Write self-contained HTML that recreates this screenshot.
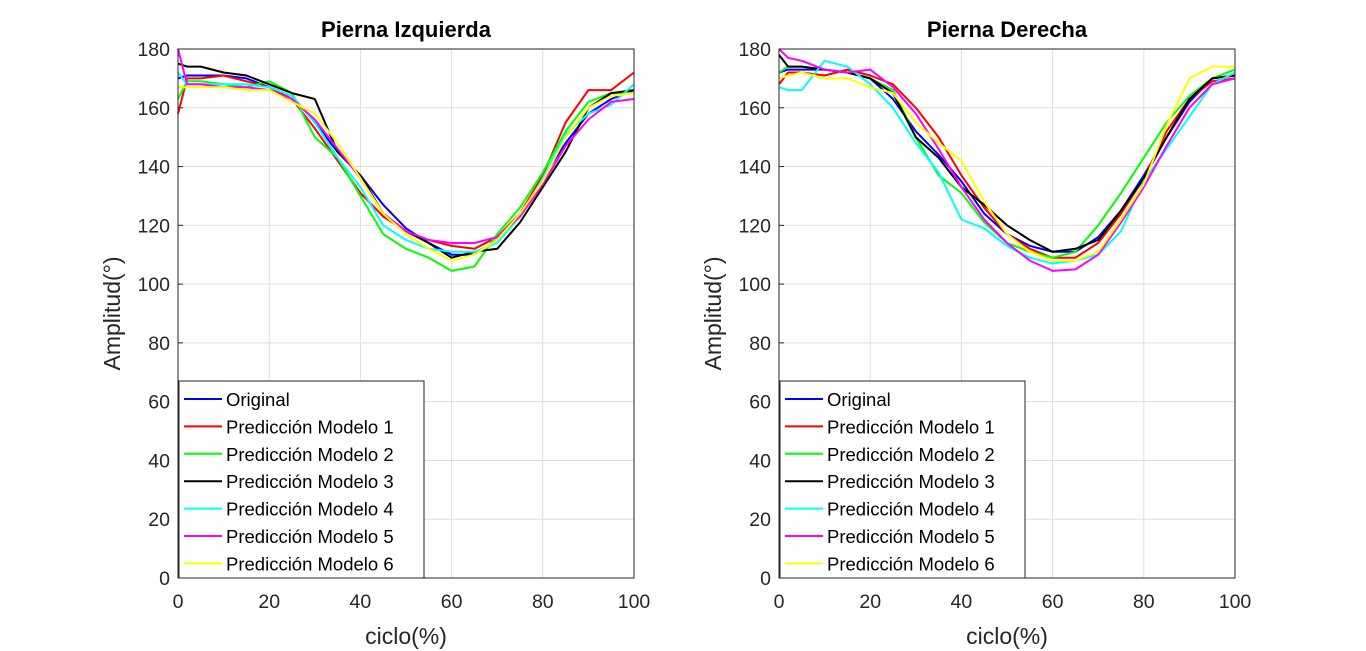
<!DOCTYPE html>
<html><head><meta charset="utf-8"><style>
body{margin:0;background:#fff;}
svg{display:block;font-family:"Liberation Sans",Arial,sans-serif;}
</style></head><body>
<svg id="chart" width="1366" height="651" viewBox="0 0 1366 651" xmlns="http://www.w3.org/2000/svg"></svg>
<script>
const xs=[0,2,5,10,15,20,25,30,35,40,45,50,55,60,65,70,75,80,85,90,95,100];
const yTicks=[0,20,40,60,80,100,120,140,160,180];
const xTicks=[0,20,40,60,80,100];
const seriesNames=["Original","Predicción Modelo 1","Predicción Modelo 2","Predicción Modelo 3","Predicción Modelo 4","Predicción Modelo 5","Predicción Modelo 6"];
const seriesColors=["#0000ff","#ff0000","#00ff00","#000000","#00ffff","#ff00ff","#ffff00"];
const leftOriginal=[170,171,171,171,170,167,164,155,145,137,127,119,114,110,110,115,124,136,148,158,163,166];
const leftM1=[158,170,170,171,169,167,163,153,142,131,123,118,115,113,112,116,124,137,155,166,166,172];
const leftM2=[163,169,169,168,167,169,165,150,143,130,117,112,109,104.5,106,117,126,138,152,162,165,165];
const leftM3=[175,174,174,172,171,168,165,163,145,137,124,118,114,109,111,112,121,133,145,160,165,166];
const leftM4=[172,168,168,168,168,167,164,155,143,133,120,115,112,111,111,114,123,136,151,158,161,168];
const leftM5=[180,168,168,167,167,166,163,156,146,136,124,118,115,114,114,116,123,134,147,156,162,163];
const leftM6=[167,167,167,167,166,166,162,158,148,136,124,117,112,108,110,115,124,135,150,160,164,165];
const rightOriginal=[172,173,173,173,172,170,163,152,144,135,124,117,113,111,111,116,125,137,150,162,170,171];
const rightM1=[168,172,172,171,173,171,168,160,150,137,126,117,112,109,109,114,124,136,152,163,169,170];
const rightM2=[172,174,174,173,172,170,166,150,137,131,121,114,111,109,111,120,131,143,155,164,170,173];
const rightM3=[178,174,174,173,172,170,165,150,143,133,127,120,115,111,112,115,125,136,150,163,170,171];
const rightM4=[167,166,166,176,174,168,160,148,138,122,119,113,109,107,108,110,118,135,146,157,168,172];
const rightM5=[180,177,176,173,172,173,167,158,146,133,122,114,108,104.5,105,110,121,133,147,160,168,170];
const rightM6=[170,171,172,170,170,167,165,155,148,142,128,117,111,108,108,111,122,134,154,170,174,174];
const panels=[
 {name:"left",title:"Pierna Izquierda",x0:178,data:[leftOriginal,leftM1,leftM2,leftM3,leftM4,leftM5,leftM6]},
 {name:"right",title:"Pierna Derecha",x0:779,data:[rightOriginal,rightM1,rightM2,rightM3,rightM4,rightM5,rightM6]}
];
const NS="http://www.w3.org/2000/svg";
const svg=document.getElementById('chart');
const W=456,Y0=49,Y1=578;
function mk(tag,attrs,parent){const e=document.createElementNS(NS,tag);for(const k in attrs)e.setAttribute(k,attrs[k]);(parent||svg).appendChild(e);return e;}
panels.forEach(p=>{
 const sx=v=>p.x0+v/100*W;
 const sy=v=>Y1-v/180*(Y1-Y0);
 const g=mk('g',{});
 
 
 const bg=mk('rect',{x:p.x0,y:Y0,width:W,height:Y1-Y0,fill:'#fff'},g);
 
 
 yTicks.forEach(t=>{
  const l=mk('line',{x1:p.x0,x2:p.x0+W,y1:sy(t),y2:sy(t),stroke:'#dfdfdf','stroke-width':1},g);
  
  
  const tk=mk('line',{x1:p.x0,x2:p.x0+5,y1:sy(t),y2:sy(t),stroke:'#262626'},g);
  
  
  const tx=mk('text',{x:p.x0-8,y:sy(t)+7,'text-anchor':'end','font-size':19.5,fill:'#262626'},g);
  tx.textContent=t;
  
  
 });
 xTicks.forEach(t=>{
  const l=mk('line',{x1:sx(t),x2:sx(t),y1:Y0,y2:Y1,stroke:'#dfdfdf','stroke-width':1},g);
  
  
  const tx=mk('text',{x:sx(t),y:Y1+30,'text-anchor':'middle','font-size':19.5,fill:'#262626'},g);
  tx.textContent=t;
  
  
 });
 p.data.forEach((arr,i)=>{
  const d=arr.map((v,j)=>(j?'L':'M')+sx(xs[j]).toFixed(1)+','+sy(v).toFixed(1)).join('');
  const pl=mk('path',{d:d,fill:'none',stroke:seriesColors[i],'stroke-width':2,'stroke-linejoin':'round'},g);
  
  
 });
 const fr=mk('rect',{x:p.x0,y:Y0,width:W,height:Y1-Y0,fill:'none',stroke:'#262626','stroke-width':1},g);
 
 
 const ti=mk('text',{x:p.x0+W/2,y:37,'text-anchor':'middle','font-size':22,'font-weight':'bold',fill:'#000'},g);
 ti.textContent=p.title;
 
 
 const xl=mk('text',{x:p.x0+W/2,y:644,'text-anchor':'middle','font-size':23,fill:'#262626'},g);
 xl.textContent='ciclo(%)';
 
 
 const yl=mk('text',{x:0,y:0,transform:`translate(${p.x0-58},${(Y0+Y1)/2}) rotate(-90)`,'text-anchor':'middle','font-size':23,fill:'#262626'},g);
 yl.textContent='Amplitud(°)';
 
 
 const lg=mk('g',{},g);
 
 
 const lb=mk('rect',{x:p.x0+1,y:381,width:245,height:197,fill:'#fff',stroke:'#262626','stroke-width':1},lg);
 
 
 seriesNames.forEach((n,i)=>{
  const yy=399+i*27.4;
  const ll=mk('line',{x1:p.x0+6,x2:p.x0+44,y1:yy,y2:yy,stroke:seriesColors[i],'stroke-width':2},lg);
  
  
  const lt=mk('text',{x:p.x0+48,y:yy+7,'font-size':18.5,fill:'#000'},lg);
  lt.textContent=n;
  
  
 });
});
</script>
</body></html>
